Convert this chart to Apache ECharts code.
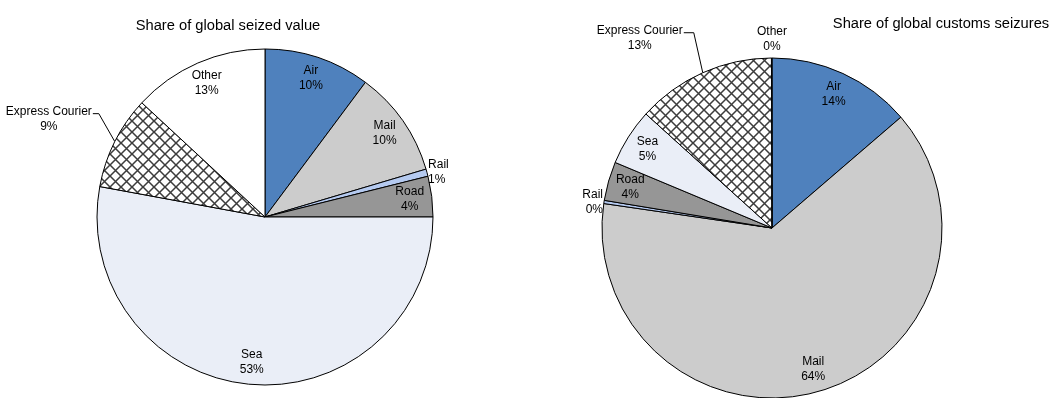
<!DOCTYPE html>
<html>
<head>
<meta charset="utf-8">
<script src="https://cdn.jsdelivr.net/npm/echarts@6/dist/echarts.min.js"></script>
<style>
html,body{margin:0;padding:0;background:#fff;}
#chart{width:1062px;height:398px;}
</style>
</head>
<body>
<div id="chart"></div>
<script>
// ---- data ----
var modes = ['Air', 'Mail', 'Rail', 'Road', 'Sea', 'Express Courier', 'Other'];
var seizedValueShare = [10.2, 10.2, 0.7, 3.9, 52.9, 9.0, 13.1];
var customsSeizureShare = [13.7, 63.6, 0.3, 3.7, 5.4, 13.25, 0.05];
var titles = ['Share of global seized value', 'Share of global customs seizures'];
var outsideLeft = ['Rail', 'Express Courier'];
var outsideRight = ['Rail', 'Express Courier', 'Other'];

// ---- styles ----
var FONT = "'Liberation Sans Narrow', 'Arial Narrow', 'Liberation Sans', Arial, sans-serif";
var LABEL_SIZE = 12;
var TITLE_SIZE = 14.7;
function hatch() {
  var s = 11;
  var c = document.createElement('canvas');
  c.width = s; c.height = s;
  var g = c.getContext('2d');
  g.fillStyle = '#ffffff'; g.fillRect(0, 0, s, s);
  g.strokeStyle = '#3c3c3c'; g.lineWidth = 1.5;
  g.beginPath();
  g.moveTo(-1, -1); g.lineTo(s + 1, s + 1);
  g.moveTo(s + 1, -1); g.lineTo(-1, s + 1);
  g.stroke();
  return c;
}
var hatchPattern = { image: hatch(), repeat: 'repeat' };
var colors = {
  'Air': '#4f81bd',
  'Mail': '#cccccc',
  'Rail': '#b5caf0',
  'Road': '#969696',
  'Sea': '#eaeef7',
  'Express Courier': hatchPattern,
  'Other': '#ffffff'
};

var pies = [
  { cx: 265, cy: 217, r: 168, values: seizedValueShare, outside: outsideLeft,
    express: { dx1: -16, dy1: -28, dx2: -6, ddy: 5.5 }, titleX: 228, titleY: 26 },
  { cx: 772, cy: 228, r: 170, values: customsSeizureShare, outside: outsideRight,
    express: { dx1: -9, dy1: -40, dx2: -10, ddy: 5 }, titleX: 941, titleY: 24 }
];

function fmt(p) { return p.name + '\n' + Math.round(p.value) + '%'; }

var series = [];
var graphics = [];
pies.forEach(function (pc, k) {
  var mainData = modes.map(function (m, i) {
    var out = pc.outside.indexOf(m) >= 0;
    return {
      name: m, value: pc.values[i],
      itemStyle: { color: colors[m] },
      label: { show: out },
      labelLine: { show: out && m === 'Express Courier' }
    };
  });
  var labelData = modes.map(function (m, i) {
    var out = pc.outside.indexOf(m) >= 0;
    return { name: m, value: pc.values[i], label: { show: !out } };
  });
  series.push({
    type: 'pie',
    center: [pc.cx, pc.cy],
    radius: [0, pc.r],
    startAngle: 90,
    clockwise: true,
    avoidLabelOverlap: false,
    animation: false,
    silent: true,
    minShowLabelAngle: 0,
    itemStyle: { borderColor: '#000', borderWidth: 1 },
    emphasis: { disabled: true },
    label: {
      position: 'outside',
      formatter: fmt,
      fontFamily: FONT, fontSize: LABEL_SIZE, color: '#000', lineHeight: 15,
      distanceToLabelLine: 1
    },
    labelLine: { length: 0, length2: 0, lineStyle: { color: '#000', width: 1 } },
    labelLayout: function (p) {
      var m = modes[p.dataIndex];
      if (m === 'Express Courier' && p.labelLinePoints) {
        var e = pc.express;
        var p0 = p.labelLinePoints[0];
        var p1 = [p0[0] + e.dx1, p0[1] + e.dy1];
        var p2 = [p1[0] + e.dx2, p1[1]];
        return {
          x: p2[0] - 1 - p.labelRect.width / 2,
          y: p2[1] + e.ddy,
          align: 'center', verticalAlign: 'middle',
          labelLinePoints: [p0, p1, p2]
        };
      }
      if (m === 'Other') {
        return { x: pc.cx, y: pc.cy - pc.r - 19, align: 'center', verticalAlign: 'middle' };
      }
    },
    data: mainData
  });
  series.push({
    type: 'pie',
    center: [pc.cx, pc.cy],
    radius: [pc.r * 0.7, pc.r],
    startAngle: 90,
    clockwise: true,
    avoidLabelOverlap: false,
    animation: false,
    silent: true,
    minShowLabelAngle: 0,
    z: 5,
    itemStyle: { color: 'rgba(0,0,0,0)', borderWidth: 0 },
    emphasis: { disabled: true },
    label: {
      position: 'inside',
      formatter: fmt,
      fontFamily: FONT, fontSize: LABEL_SIZE, color: '#000', lineHeight: 15
    },
    labelLine: { show: false },
    data: labelData
  });
  graphics.push({
    type: 'text',
    x: pc.titleX, y: pc.titleY,
    style: {
      text: titles[k], align: 'center', verticalAlign: 'middle',
      fontFamily: FONT, fontSize: TITLE_SIZE, fill: '#000'
    }
  });
});

var chart = echarts.init(document.getElementById('chart'), null, { renderer: 'canvas' });
chart.setOption({
  animation: false,
  backgroundColor: '#ffffff',
  graphic: graphics,
  series: series
});
</script>
</body>
</html>
